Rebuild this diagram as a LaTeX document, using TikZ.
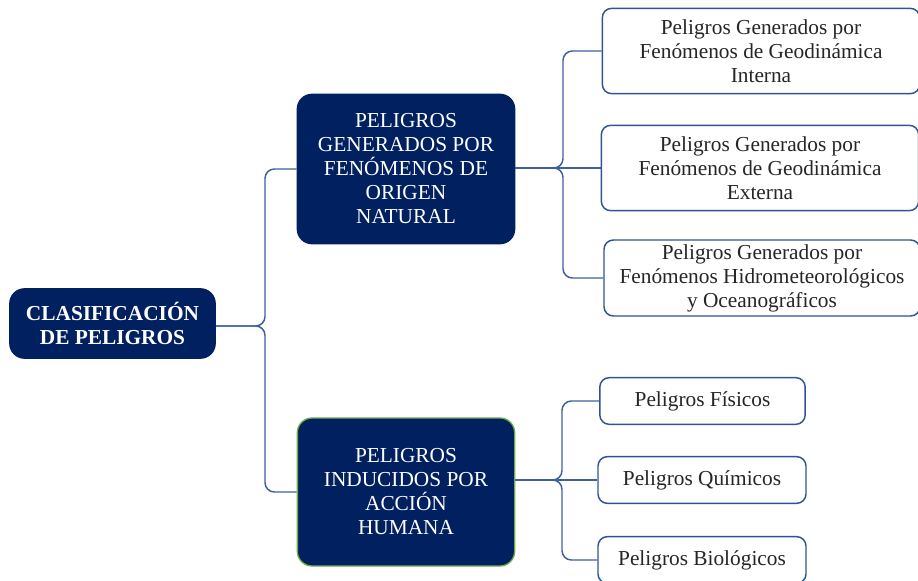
\documentclass[tikz,border=0pt]{standalone}
\usepackage{fontspec}
\setmainfont{Liberation Serif}
\usepackage{tikz}
\definecolor{navy}{HTML}{002060}
\definecolor{edgeblue}{HTML}{2F5496}
\definecolor{linkblue}{HTML}{3F5F9F}
\definecolor{leafgreen}{HTML}{70AD47}

\begin{document}
\begin{tikzpicture}[x=0.75pt,y=-0.75pt,
  mainbox/.style={rectangle,rounded corners=11pt,draw=navy,line width=1pt,fill=navy,text=white,align=center,inner sep=0pt,font=\fontsize{16}{18}\selectfont},
  leafbox/.style={rectangle,rounded corners=7pt,draw=edgeblue,line width=1.1pt,fill=white,text=black!85,align=center,inner sep=0pt,font=\fontsize{16}{18}\selectfont},
  conn/.style={draw=linkblue,line width=1.1pt,rounded corners=7pt}]
\useasboundingbox (0,0) rectangle (918,581);

\node[mainbox,minimum width=154pt,minimum height=52pt] (clas) at (112.5,323.5) {\textbf{CLASIFICACIÓN}\\\textbf{DE PELIGROS}};
\node[mainbox,minimum width=163pt,minimum height=112pt] (nat) at (406,169) {PELIGROS\\GENERADOS POR\\FENÓMENOS DE\\ORIGEN\\NATURAL};
\node[mainbox,draw=leafgreen,minimum width=163pt,minimum height=111pt] (hum) at (406,492) {PELIGROS\\INDUCIDOS POR\\ACCIÓN\\HUMANA};

\node[leafbox,minimum width=238pt,minimum height=64pt] (inte) at (761,51) {Peligros Generados por\\Fenómenos de Geodinámica\\Interna};
\node[leafbox,minimum width=238pt,minimum height=64pt] (exte) at (760,168) {Peligros Generados por\\Fenómenos de Geodinámica\\Externa};
\node[leafbox,minimum width=237pt,minimum height=57pt] (hidr) at (762,278) {Peligros Generados por\\Fenómenos Hidrometeorológicos\\y Oceanográficos};
\node[leafbox,minimum width=154pt,minimum height=35pt] (fis) at (702.5,401) {Peligros Físicos};
\node[leafbox,minimum width=156pt,minimum height=35pt] (qui) at (702,480) {Peligros Químicos};
\node[leafbox,minimum width=156pt,minimum height=35pt] (bio) at (702,560) {Peligros Biológicos};

\coordinate (b1) at (265,326);
\coordinate (b2) at (563,168);
\coordinate (b3) at (562,480);

\draw[conn] (clas.east |- b1) -- (b1) |- (nat.west);
\draw[conn] (clas.east |- b1) -- (b1) |- (hum.west);

\draw[conn] (nat.east |- b2) -- (b2) |- (inte.west);
\draw[conn] (nat.east |- b2) -- (exte.west);
\draw[conn] (nat.east |- b2) -- (b2) |- (hidr.west);

\draw[conn] (hum.east |- b3) -- (b3) |- (fis.west);
\draw[conn] (hum.east |- b3) -- (qui.west);
\draw[conn] (hum.east |- b3) -- (b3) |- (bio.west);
\end{tikzpicture}
\end{document}
